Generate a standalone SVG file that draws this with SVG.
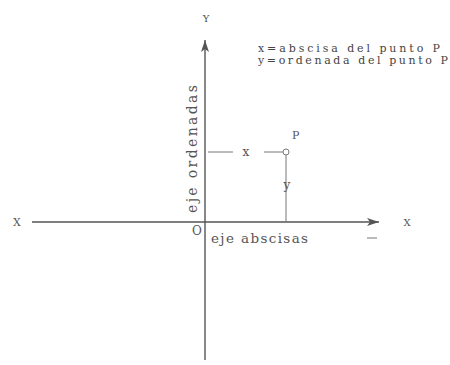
<svg xmlns="http://www.w3.org/2000/svg" width="450" height="365" viewBox="0 0 450 365">
<style>
.t{font-family:"DejaVu Serif",serif;fill:#555;}
.ax{stroke:#555;stroke-width:1.4;fill:none;}
.ln{stroke:#777;stroke-width:1;fill:none;}
.lt{font-family:"DejaVu Serif",serif;fill:#444;font-size:11px;}
</style>
<defs>
<marker id="ah" viewBox="0 0 12 8" refX="12" refY="4" markerWidth="12" markerHeight="8" markerUnits="userSpaceOnUse" orient="auto">
<path d="M0,0 L12,4 L0,8 L3,4 Z" fill="#555"/>
</marker>
</defs>
<rect width="450" height="365" fill="#fff"/>
<g id="connectors">
<line class="ax" x1="205" y1="360" x2="205" y2="40" marker-end="url(#ah)"/>
<line class="ax" x1="32" y1="222" x2="379" y2="222" marker-end="url(#ah)"/>
<line class="ln" x1="208" y1="152" x2="233" y2="152"/>
<line class="ln" x1="264" y1="152" x2="283" y2="152"/>
<line class="ln" x1="286" y1="155" x2="286" y2="222"/>
<line class="ln" x1="367" y1="238" x2="377" y2="238"/>
</g>
<g id="point-P">
<circle cx="286" cy="152" r="3" fill="none" stroke="#777" stroke-width="1"/>
<text class="t" x="292" y="139" font-size="11">P</text>
</g>
<g id="labels">
<text class="t" x="206" y="22" font-size="10" text-anchor="middle">Y</text>
<text class="t" x="17" y="226" font-size="11" text-anchor="middle">X</text>
<text class="t" x="407" y="226" font-size="10" text-anchor="middle">X</text>
<text class="t" x="197" y="235" font-size="12" text-anchor="middle">O</text>
<text class="t" x="211" y="243" font-size="13.5" textLength="97" lengthAdjust="spacing">eje abscisas</text>
<text class="t" transform="translate(197,213) rotate(-90)" font-size="14" textLength="128" lengthAdjust="spacing">eje ordenadas</text>
<text class="t" x="246" y="156" font-size="12" text-anchor="middle">x</text>
<text class="t" x="287" y="189" font-size="12" text-anchor="middle">y</text>
</g>
<g id="legend">
<text class="lt" x="258" y="52" textLength="182" lengthAdjust="spacing">x=abscisa del punto P</text>
<text class="lt" x="258" y="64" textLength="190" lengthAdjust="spacing">y=ordenada del punto P</text>
</g>
</svg>
